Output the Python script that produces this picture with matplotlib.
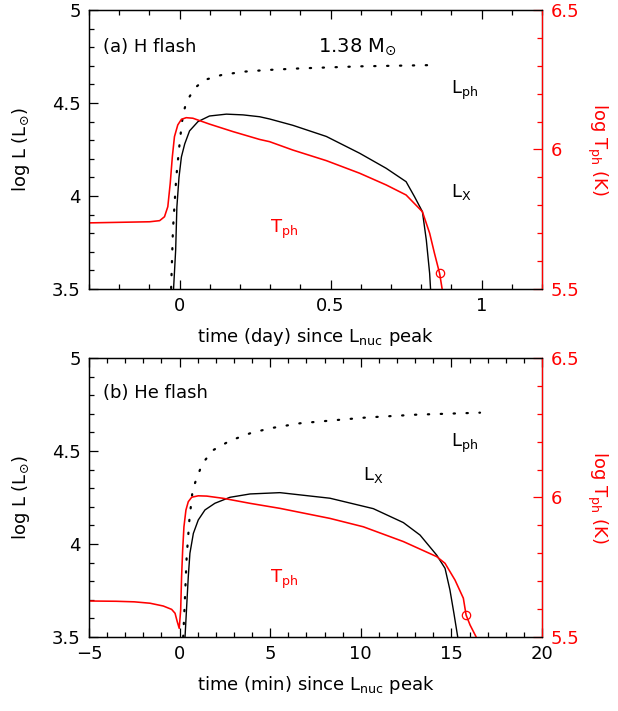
import matplotlib
matplotlib.use("Agg")
import matplotlib.pyplot as plt
from matplotlib.ticker import MultipleLocator

plt.rcParams['font.family'] = ['DejaVu Sans']
plt.rcParams['mathtext.default'] = 'regular'
plt.rcParams['font.size'] = 13

RED = '#ff0000'

# (a) H flash, time in days
t_lx_a = [-0.020, -0.013, -0.009, -0.002, 0.006, 0.017, 0.033, 0.061, 0.099, 0.155,
          0.21, 0.265, 0.298, 0.375, 0.486, 0.596, 0.684, 0.75, 0.778, 0.804,
          0.817, 0.828, 0.831]
lx_a = [3.5, 3.71, 3.94, 4.10, 4.21, 4.28, 4.35, 4.40, 4.43, 4.44,
        4.436, 4.426, 4.414, 4.38, 4.32, 4.23, 4.149, 4.077, 3.996, 3.916,
        3.763, 3.584, 3.5]
t_lph_a = [-0.028, -0.022, -0.011, -0.002, 0.006, 0.011, 0.02, 0.033, 0.05, 0.083,
           0.138, 0.21, 0.287, 0.4, 0.6, 0.85]
lph_a = [3.505, 3.82, 4.10, 4.25, 4.37, 4.435, 4.49, 4.534, 4.58, 4.624,
         4.65, 4.668, 4.677, 4.686, 4.697, 4.704]
t_tph_a = [-0.3, -0.2, -0.099, -0.066, -0.05, -0.039, -0.031, -0.024, -0.017, -0.006,
           0.006, 0.022, 0.044, 0.099, 0.177, 0.265, 0.298, 0.375, 0.486, 0.596,
           0.684, 0.75, 0.804, 0.828, 0.844, 0.861, 0.87]
tph_a = [5.737, 5.739, 5.741, 5.745, 5.759, 5.795, 5.879, 5.974, 6.046, 6.088,
         6.108, 6.114, 6.112, 6.091, 6.064, 6.036, 6.028, 5.998, 5.96, 5.915,
         5.873, 5.837, 5.777, 5.70, 5.628, 5.556, 5.496]
mark_a = (0.861, 5.556)

# (b) He flash, time in minutes
t_lx_b = [0.30, 0.39, 0.48, 0.57, 0.76, 1.03, 1.40, 1.95, 2.78, 3.89, 5.54, 8.30,
          10.69, 12.35, 13.27, 14.19, 14.65, 14.92, 15.14, 15.35]
lx_b = [3.50, 3.663, 3.824, 3.95, 4.057, 4.129, 4.183, 4.219, 4.251, 4.269, 4.276, 4.246,
        4.19, 4.115, 4.048, 3.94, 3.869, 3.753, 3.627, 3.50]
t_lph_b = [0.20, 0.30, 0.39, 0.54, 0.72, 0.94, 1.13, 1.40, 1.86, 2.78, 3.89, 4.99,
           6.65, 8.5, 10.3, 13.0, 16.58]
lph_b = [3.50, 3.717, 3.93, 4.129, 4.29, 4.353, 4.40, 4.45, 4.505, 4.555, 4.595, 4.622,
         4.649, 4.665, 4.68, 4.695, 4.706]
t_tph_b = [-5, -3.5, -2.5, -1.63, -0.90, -0.44, -0.25, -0.13, -0.02, 0.06, 0.11, 0.17,
           0.24, 0.35, 0.48, 0.67, 1.03, 1.5, 2.41, 3.89, 5.54, 8.30, 10.14, 12.35,
           14.19, 14.65, 15.2, 15.66, 15.81, 16.03, 16.36]
tph_b = [5.629, 5.628, 5.626, 5.621, 5.611, 5.599, 5.585, 5.555, 5.531, 5.597, 5.716, 5.812,
         5.895, 5.955, 5.985, 6.001, 6.006, 6.005, 5.997, 5.979, 5.961, 5.925, 5.895, 5.842,
         5.788, 5.764, 5.704, 5.639, 5.579, 5.543, 5.501]
mark_b = (15.81, 5.579)


def style_axes(ax, ax2, xlim, xmaj, xmin):
    ax.set_xlim(*xlim)
    ax.set_ylim(3.5, 5)
    ax2.set_ylim(5.5, 6.5)
    ax.xaxis.set_major_locator(MultipleLocator(xmaj))
    ax.xaxis.set_minor_locator(MultipleLocator(xmin))
    ax.yaxis.set_major_locator(MultipleLocator(0.5))
    ax.yaxis.set_minor_locator(MultipleLocator(0.1))
    ax2.yaxis.set_major_locator(MultipleLocator(0.5))
    ax2.yaxis.set_minor_locator(MultipleLocator(0.1))
    ax.tick_params(which='both', direction='in', top=True, right=False, width=0.9)
    ax.tick_params(which='major', length=6.5, pad=6)
    ax.tick_params(which='minor', length=3.5)
    ax2.tick_params(which='both', direction='in', colors=RED, width=0.9)
    ax2.tick_params(which='major', length=6.5, pad=6)
    ax2.tick_params(which='minor', length=3.5)
    for s in ax.spines.values():
        s.set_linewidth(0.9)
    for s in ax2.spines.values():
        s.set_linewidth(0.9)
    ax2.spines['right'].set_color(RED)
    ax.set_ylabel(r'log L (L$_{\odot}$)', labelpad=14)
    ax2.set_ylabel(r'log T$_{ph}$ (K)', color=RED, rotation=270, labelpad=22)


fig = plt.figure(figsize=(6.18, 7.11), dpi=100)
ax_a = fig.add_axes([0.144, 0.5935, 0.733, 0.3925])
ax_b = fig.add_axes([0.144, 0.1041, 0.733, 0.3924])

for ax, tlx, lx, tlph, lph, ttph, tph, mark in [
        (ax_a, t_lx_a, lx_a, t_lph_a, lph_a, t_tph_a, tph_a, mark_a),
        (ax_b, t_lx_b, lx_b, t_lph_b, lph_b, t_tph_b, tph_b, mark_b)]:
    ax2 = ax.twinx()
    ax.plot(tlx, lx, color='black', lw=1.0)
    ax.plot(tlph, lph, color='black', lw=1.6, linestyle=(0, (0.6, 5.2)),
            dash_capstyle='round')
    ax2.plot(ttph, tph, color=RED, lw=1.15)
    ax2.plot([mark[0]], [mark[1]], marker='o', mfc='none', mec=RED, ms=6, mew=0.9)
    if ax is ax_a:
        style_axes(ax, ax2, (-0.3, 1.2), 0.5, 0.1)
        ax.set_xticks([0, 0.5, 1])
        ax.set_xticklabels(['0', '0.5', '1'])
        ax.set_xlabel(r'time (day) since L$_{nuc}$ peak', labelpad=8)
        ax.text(-0.255, 4.80, '(a) H flash', va='center')
        ax.text(0.457, 4.80, r'1.38 M$_{\odot}$', va='center', fontsize=14)
        ax.text(0.90, 4.57, r'L$_{ph}$', va='center')
        ax.text(0.90, 4.02, r'L$_{X}$', va='center')
        ax.text(0.30, 3.82, r'T$_{ph}$', va='center', color=RED)
    else:
        style_axes(ax, ax2, (-5, 20), 5, 1)
        ax.set_xticks([-5, 0, 5, 10, 15, 20])
        ax.set_xticklabels(['\u22125', '0', '5', '10', '15', '20'])
        ax.set_xlabel(r'time (min) since L$_{nuc}$ peak', labelpad=8)
        ax.text(-4.23, 4.81, '(b) He flash', va='center')
        ax.text(15.0, 4.54, r'L$_{ph}$', va='center')
        ax.text(10.1, 4.37, r'L$_{X}$', va='center')
        ax.text(5.0, 3.81, r'T$_{ph}$', va='center', color=RED)
    ax2.set_yticks([5.5, 6, 6.5])
    ax2.set_yticklabels(['5.5', '6', '6.5'])
    ax.set_yticks([3.5, 4, 4.5, 5])
    ax.set_yticklabels(['3.5', '4', '4.5', '5'])

fig.savefig('out.png', dpi=100)
